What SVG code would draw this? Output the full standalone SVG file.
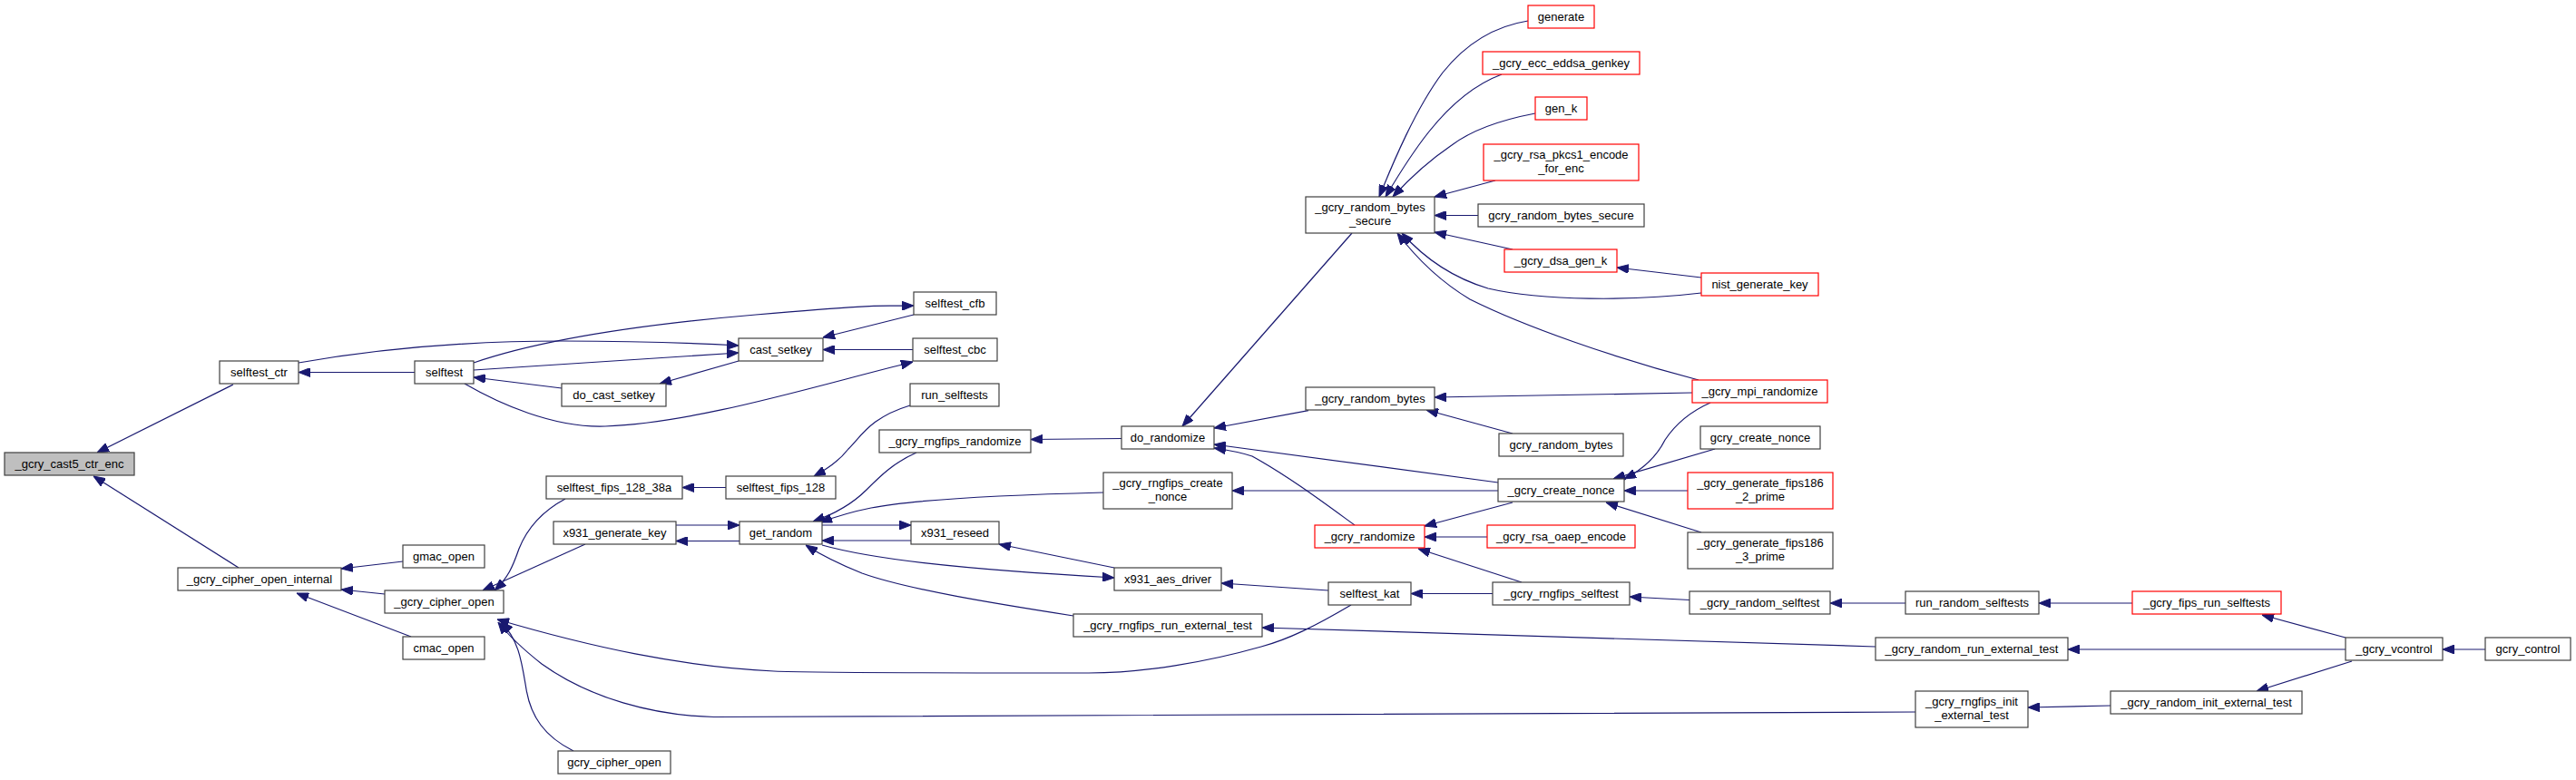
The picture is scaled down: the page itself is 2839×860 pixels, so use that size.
<svg xmlns="http://www.w3.org/2000/svg" width="2839" height="860" viewBox="0 0 2839 860">
<style>
.n rect{fill:#ffffff;stroke:#404040;stroke-width:1.2}
.n.red rect{stroke:#ff0000}
.n.root rect{fill:#bfbfbf}
.n text{font-family:"Liberation Sans",Arial,sans-serif;font-size:13px;fill:#000000;text-anchor:middle}
.e path{fill:none;stroke:#191970;stroke-width:1.2;marker-end:url(#ah)}
</style>
<defs>
<marker id="ah" markerWidth="13" markerHeight="10" refX="13" refY="5" orient="auto" markerUnits="userSpaceOnUse"><path d="M0,0 L13,5 L0,10 z" fill="#191970" stroke="#191970" stroke-width="1"/></marker>
</defs>
<rect x="0" y="0" width="2839" height="860" fill="#ffffff"/>
<g id="edges" class="e">
<path d="M257,424 L107,499"/>
<path d="M263,626 L103,525"/>
<path d="M457,410.5 L329,410.5"/>
<path d="M444,619 L376,627"/>
<path d="M424,655 L376,650"/>
<path d="M453,702 L327,654"/>
<path d="M329,400 C420,384 520,376 620,376 C700,376 760,378 814,381"/>
<path d="M522,408 L814,389"/>
<path d="M522,400 C580,380 680,360 833,347 S960,338 1007,337"/>
<path d="M1007,347 L907,372"/>
<path d="M1006,385.5 L907,385.5"/>
<path d="M512,423 C550,445 610,472 667,470 C770,466 900,425 1006,399"/>
<path d="M619,428 L522,416"/>
<path d="M814,398 L727,423"/>
<path d="M800,537.5 L752,537.5"/>
<path d="M1003,447 C960,460 950,480 935,495 C925,508 910,518 897,525"/>
<path d="M623,550 C595,565 580,585 572,605 C565,625 560,637 545,651"/>
<path d="M645,600 L532,651"/>
<path d="M745,579 L815,579"/>
<path d="M815,596.5 L745,596.5"/>
<path d="M906,579 L1004,579"/>
<path d="M1004,596 L906,596"/>
<path d="M1010,499 C985,510 970,525 955,540 C940,555 922,566 896,575"/>
<path d="M1216,543 C1100,546 1000,552 960,560 C935,565 920,570 904,576"/>
<path d="M906,601 C960,616 1050,627 1228,637"/>
<path d="M1228,626 L1101,600"/>
<path d="M1183,679 C1100,666 1000,650 950,632 C925,622 905,612 888,601"/>
<path d="M1489,667 C1450,690 1420,705 1390,713 C1330,730 1260,742 1200,742 C1100,742 900,742 853,740 C750,735 650,713 548,683"/>
<path d="M2111,785 L787,790.5 C720,789 650,770 597,732 C578,717 560,700 549,686"/>
<path d="M632,828 C600,812 585,790 580,760 C575,730 572,705 552,686"/>
<path d="M1236,483.5 L1136,484.5"/>
<path d="M1490,257 L1303,470"/>
<path d="M1442,452.7 L1338,472"/>
<path d="M1651,532 L1338,490"/>
<path d="M1493,579 C1460,555 1420,525 1380,503 C1365,498 1352,496 1338,494"/>
<path d="M1651,541 L1358,541"/>
<path d="M1464,651 L1346,643"/>
<path d="M2067,713 L1391,692"/>
<path d="M1645,654.5 L1555,654.5"/>
<path d="M1684,23 C1640,30 1610,55 1590,80 C1560,120 1535,180 1520,217"/>
<path d="M1655,82 C1620,95 1595,120 1575,145 C1555,170 1540,195 1527,217"/>
<path d="M1692,125 C1650,133 1620,145 1600,160 C1575,177 1555,195 1535,217"/>
<path d="M1648,199 L1581,217"/>
<path d="M1629,237.5 L1581,237.5"/>
<path d="M1667,275 L1581,256"/>
<path d="M1875,306 L1782,295"/>
<path d="M1875,323 C1800,332 1700,332 1640,318 C1600,306 1570,285 1545,257"/>
<path d="M1872,419 C1780,395 1680,360 1620,330 C1590,312 1565,290 1540,257"/>
<path d="M1865,433 L1581,438"/>
<path d="M1667,478 L1572,452"/>
<path d="M1885,444 C1860,455 1845,470 1835,485 C1825,505 1810,518 1790,528"/>
<path d="M1890,495 L1778,528"/>
<path d="M1860,541 L1790,541"/>
<path d="M1875,587 L1770,554"/>
<path d="M1667,554 L1570,580"/>
<path d="M1639,592 L1570,592"/>
<path d="M1677,642 L1563,605"/>
<path d="M1862,661.5 L1796,658"/>
<path d="M2100,665 L2017,665"/>
<path d="M2350,665 L2247,665"/>
<path d="M2585,703 L2493,678"/>
<path d="M2585,716 L2279,716"/>
<path d="M2592,729 L2487,762"/>
<path d="M2739,716 L2692,716"/>
<path d="M2326,778 L2235,780"/>
</g>
<g id="n1" class="n root"><rect x="5" y="499" width="143" height="25"/><text x="76.5" y="516">_gcry_cast5_ctr_enc</text></g>
<g id="n2" class="n"><rect x="242" y="398" width="87" height="25"/><text x="285.5" y="415">selftest_ctr</text></g>
<g id="n3" class="n"><rect x="457" y="398" width="65" height="25"/><text x="489.5" y="415">selftest</text></g>
<g id="n4" class="n"><rect x="814" y="373" width="93" height="25"/><text x="860.5" y="390">cast_setkey</text></g>
<g id="n5" class="n"><rect x="619" y="423" width="115" height="25"/><text x="676.5" y="440">do_cast_setkey</text></g>
<g id="n6" class="n"><rect x="1007" y="322" width="91" height="25"/><text x="1052.5" y="339">selftest_cfb</text></g>
<g id="n7" class="n"><rect x="1006" y="373" width="93" height="25"/><text x="1052.5" y="390">selftest_cbc</text></g>
<g id="n8" class="n"><rect x="1003" y="423" width="98" height="25"/><text x="1052" y="440">run_selftests</text></g>
<g id="n9" class="n"><rect x="969" y="474" width="167" height="25"/><text x="1052.5" y="491">_gcry_rngfips_randomize</text></g>
<g id="n10" class="n"><rect x="602" y="525" width="150" height="25"/><text x="677" y="542">selftest_fips_128_38a</text></g>
<g id="n11" class="n"><rect x="800" y="525" width="121" height="25"/><text x="860.5" y="542">selftest_fips_128</text></g>
<g id="n12" class="n"><rect x="196" y="626" width="180" height="25"/><text x="286" y="643">_gcry_cipher_open_internal</text></g>
<g id="n13" class="n"><rect x="444" y="601" width="90" height="25"/><text x="489" y="618">gmac_open</text></g>
<g id="n14" class="n"><rect x="424" y="651" width="131" height="25"/><text x="489.5" y="668">_gcry_cipher_open</text></g>
<g id="n15" class="n"><rect x="444" y="702" width="90" height="25"/><text x="489" y="719">cmac_open</text></g>
<g id="n16" class="n"><rect x="610" y="575" width="135" height="25"/><text x="677.5" y="592">x931_generate_key</text></g>
<g id="n17" class="n"><rect x="815" y="575" width="91" height="25"/><text x="860.5" y="592">get_random</text></g>
<g id="n18" class="n"><rect x="1004" y="575" width="97" height="25"/><text x="1052.5" y="592">x931_reseed</text></g>
<g id="n19" class="n"><rect x="615" y="828" width="124" height="25"/><text x="677" y="845">gcry_cipher_open</text></g>
<g id="n20" class="n"><rect x="1236" y="470" width="102" height="25"/><text x="1287" y="487">do_randomize</text></g>
<g id="n21" class="n"><rect x="1216" y="521" width="142" height="40"/><text x="1287" y="537">_gcry_rngfips_create</text><text x="1287" y="552">_nonce</text></g>
<g id="n22" class="n"><rect x="1228" y="626" width="118" height="25"/><text x="1287" y="643">x931_aes_driver</text></g>
<g id="n23" class="n"><rect x="1183" y="677" width="208" height="25"/><text x="1287" y="694">_gcry_rngfips_run_external_test</text></g>
<g id="n24" class="n"><rect x="1439" y="217" width="142" height="40"/><text x="1510" y="233">_gcry_random_bytes</text><text x="1510" y="248">_secure</text></g>
<g id="n25" class="n"><rect x="1439" y="427" width="142" height="25"/><text x="1510" y="444">_gcry_random_bytes</text></g>
<g id="n26" class="n red"><rect x="1449" y="579" width="121" height="25"/><text x="1509.5" y="596">_gcry_randomize</text></g>
<g id="n27" class="n"><rect x="1464" y="642" width="91" height="25"/><text x="1509.5" y="659">selftest_kat</text></g>
<g id="n28" class="n red"><rect x="1684" y="6" width="73" height="25"/><text x="1720.5" y="23">generate</text></g>
<g id="n29" class="n red"><rect x="1634" y="57" width="173" height="25"/><text x="1720.5" y="74">_gcry_ecc_eddsa_genkey</text></g>
<g id="n30" class="n red"><rect x="1692" y="107" width="57" height="25"/><text x="1720.5" y="124">gen_k</text></g>
<g id="n31" class="n red"><rect x="1635" y="159" width="171" height="40"/><text x="1720.5" y="175">_gcry_rsa_pkcs1_encode</text><text x="1720.5" y="190">_for_enc</text></g>
<g id="n32" class="n"><rect x="1629" y="225" width="183" height="25"/><text x="1720.5" y="242">gcry_random_bytes_secure</text></g>
<g id="n33" class="n red"><rect x="1658" y="275" width="124" height="25"/><text x="1720" y="292">_gcry_dsa_gen_k</text></g>
<g id="n34" class="n red"><rect x="1875" y="301" width="129" height="25"/><text x="1939.5" y="318">nist_generate_key</text></g>
<g id="n35" class="n red"><rect x="1865" y="419" width="149" height="25"/><text x="1939.5" y="436">_gcry_mpi_randomize</text></g>
<g id="n36" class="n"><rect x="1652" y="478" width="137" height="25"/><text x="1720.5" y="495">gcry_random_bytes</text></g>
<g id="n37" class="n"><rect x="1874" y="470" width="132" height="25"/><text x="1940" y="487">gcry_create_nonce</text></g>
<g id="n38" class="n"><rect x="1651" y="528" width="139" height="25"/><text x="1720.5" y="545">_gcry_create_nonce</text></g>
<g id="n39" class="n red"><rect x="1860" y="521" width="160" height="40"/><text x="1940" y="537">_gcry_generate_fips186</text><text x="1940" y="552">_2_prime</text></g>
<g id="n40" class="n red"><rect x="1639" y="579" width="163" height="25"/><text x="1720.5" y="596">_gcry_rsa_oaep_encode</text></g>
<g id="n41" class="n"><rect x="1860" y="587" width="160" height="40"/><text x="1940" y="603">_gcry_generate_fips186</text><text x="1940" y="618">_3_prime</text></g>
<g id="n42" class="n"><rect x="1645" y="642" width="151" height="25"/><text x="1720.5" y="659">_gcry_rngfips_selftest</text></g>
<g id="n43" class="n"><rect x="1862" y="652" width="155" height="25"/><text x="1939.5" y="669">_gcry_random_selftest</text></g>
<g id="n44" class="n"><rect x="2100" y="652" width="147" height="25"/><text x="2173.5" y="669">run_random_selftests</text></g>
<g id="n45" class="n red"><rect x="2350" y="652" width="164" height="25"/><text x="2432" y="669">_gcry_fips_run_selftests</text></g>
<g id="n46" class="n"><rect x="2067" y="703" width="212" height="25"/><text x="2173" y="720">_gcry_random_run_external_test</text></g>
<g id="n47" class="n"><rect x="2111" y="762" width="124" height="40"/><text x="2173" y="778">_gcry_rngfips_init</text><text x="2173" y="793">_external_test</text></g>
<g id="n48" class="n"><rect x="2326" y="762" width="211" height="25"/><text x="2431.5" y="779">_gcry_random_init_external_test</text></g>
<g id="n49" class="n"><rect x="2585" y="703" width="107" height="25"/><text x="2638.5" y="720">_gcry_vcontrol</text></g>
<g id="n50" class="n"><rect x="2739" y="703" width="94" height="25"/><text x="2786" y="720">gcry_control</text></g>
</svg>
